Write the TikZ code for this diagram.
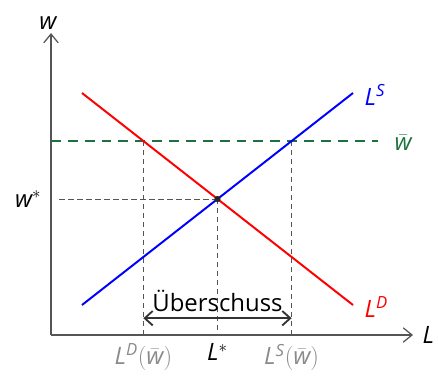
\documentclass[tikz,border=0pt]{standalone}
\usepackage{fontspec}
\setmainfont{Open Sans}
\usepackage{xcolor}
\definecolor{axisgray}{HTML}{555555}
\definecolor{labelgray}{HTML}{8A8A8A}
\definecolor{wagegreen}{HTML}{1E7040}
\definecolor{arrowgray}{HTML}{333333}
\usetikzlibrary{arrows.meta,positioning,calc}
\tikzset{
  axis/.style    ={draw=axisgray,line width=0.9pt,-{Straight Barb[length=2.2mm,width=3.6mm]}},
  demand/.style  ={draw=red,line width=1.4pt},
  supply/.style  ={draw=blue,line width=1.4pt},
  minwage/.style ={draw=wagegreen,line width=1.4pt,dash pattern=on 7pt off 5pt},
  helper/.style  ={draw=axisgray,line width=0.6pt,dash pattern=on 3.6pt off 2.8pt},
  surplus/.style ={draw=arrowgray,line width=1.3pt,
                   {Straight Barb[length=2mm,width=3.6mm]}-{Straight Barb[length=2mm,width=3.6mm]}},
  lbl/.style     ={font=\fontsize{17}{20}\selectfont,inner sep=1pt},
}
\begin{document}
\begin{tikzpicture}[x=1cm,y=1cm]
\useasboundingbox (-1.275,-1.025) rectangle (9.675,8.375);
% axes
\coordinate (O) at (0,0);
\coordinate (ytop) at (0,7.55);
\coordinate (xend) at (9.05,0);
\draw[axis] (O) -- (ytop);
\draw[axis] (O) -- (xend);
\node[lbl,anchor=south] (wlab) at (-0.08,7.6) {$\mathit{w}$};
\node[lbl,anchor=west] (Llab) at (9.25,0) {$\mathit{L}$};

% curves
\coordinate (D1) at (0.775,6.05);
\coordinate (D2) at (7.55,0.75);
\coordinate (S1) at (0.775,0.75);
\coordinate (S2) at (7.55,6.05);
\coordinate (E) at (intersection of D1--D2 and S1--S2);

% minimum wage line
\coordinate (wb0) at (0,4.85);
\coordinate (wb1) at (8.175,4.85);
\coordinate (LDw) at (intersection of D1--D2 and wb0--wb1);
\coordinate (LSw) at (intersection of S1--S2 and wb0--wb1);
\coordinate (LDx) at (O -| LDw);
\coordinate (LSx) at (O -| LSw);
\coordinate (Ex) at (O -| E);
\coordinate (Ey) at ($(O |- E)+(0.18,0)$);

% helper lines
\draw[helper] (LDw) -- (LDx);
\draw[helper] (LSw) -- (LSx);
\draw[helper] (E) -- (Ex);
\draw[helper] (E) -- (Ey);
\draw[minwage] (wb0) -- (wb1);

\draw[demand] (D1) -- (D2);
\draw[supply] (S1) -- (S2);
\fill[black!85] (E) circle (2.2pt);

\node[lbl,text=blue,anchor=south west] (LSlab) at (7.8,5.7) {$\mathit{L}^{\mathit{S}}$};
\node[lbl,text=red,anchor=south west] (LDlab) at (7.8,0.4) {$\mathit{L}^{\mathit{D}}$};
\node[lbl,text=wagegreen,anchor=west] (wblab) at (8.55,4.8) {$\bar{\mathit{w}}$};
\node[lbl,anchor=east] (wslab) at (-0.2,3.4) {$\mathit{w}^{*}$};

% surplus
\coordinate (A1) at ($(LDx)+(0,0.42)$);
\coordinate (A2) at ($(LSx)+(0,0.42)$);
\draw[surplus] (A1) -- (A2);
\node[lbl,anchor=south] (ueb) at ($(A1)!0.5!(A2)+(0,0.12)$) {Überschuss};

% x labels
\node[lbl,text=labelgray,anchor=north] (LDwlab) at ($(LDx)+(0,-0.18)$) {$\mathit{L}^{\mathit{D}}\mathrm{(}\bar{\mathit{w}}\mathrm{)}$};
\node[lbl,anchor=north] (Lslab) at ($(Ex)+(0,-0.18)$) {$\mathit{L}^{*}$};
\node[lbl,text=labelgray,anchor=north] (LSwlab) at ($(LSx)+(0,-0.18)$) {$\mathit{L}^{\mathit{S}}\mathrm{(}\bar{\mathit{w}}\mathrm{)}$};
\end{tikzpicture}
\end{document}
